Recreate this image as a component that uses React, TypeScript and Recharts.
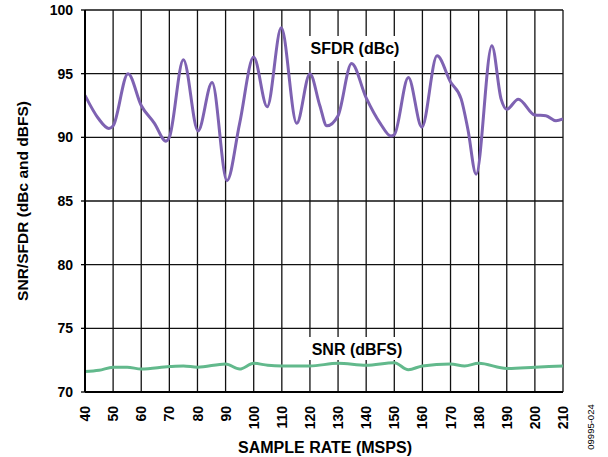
import React from "react";
import { LineChart, Line, XAxis, YAxis, CartesianGrid } from "recharts";

const xTicks = [40, 50, 60, 70, 80, 90, 100, 110, 120, 130, 140, 150, 160, 170, 180, 190, 200, 210];
const yTicks = [70, 75, 80, 85, 90, 95, 100];

const sfdrX = [40, 44.7, 48.5, 50, 55.3, 60, 64.7, 68.8, 70, 75, 80.2, 85.2, 90.5, 95, 100, 104.8, 109.8, 115.3, 120, 123.5, 126, 130, 134.8, 140, 145, 148.8, 150, 155, 159.8, 165.2, 170, 173.8, 176.2, 179.1, 184.7, 188, 190, 194.1, 200, 203.9, 207.5, 210];
const sfdrY = [93.3, 91.5, 90.7, 90.9, 95.0, 92.5, 91.1, 89.7, 90.0, 96.1, 90.5, 94.3, 86.6, 91.1, 96.3, 92.4, 98.6, 91.1, 95.0, 92.5, 90.9, 91.7, 95.8, 93.1, 91.1, 90.1, 90.2, 94.7, 90.8, 96.4, 94.35, 93.0, 90.6, 87.1, 97.2, 93.0, 92.2, 93.0, 91.75, 91.7, 91.3, 91.45];

const snrX = [40, 45, 50, 55, 60, 70, 75, 80, 90, 95, 100, 105, 110, 120, 130, 140, 150, 155, 160, 170, 175, 180, 190, 200, 210];
const snrY = [71.6, 71.7, 71.95, 71.95, 71.8, 72.0, 72.05, 71.95, 72.2, 71.8, 72.25, 72.1, 72.05, 72.05, 72.25, 72.1, 72.3, 71.75, 72.05, 72.2, 72.05, 72.25, 71.85, 71.95, 72.05];

const sfdrData = sfdrX.map((x, i) => ({ x, y: sfdrY[i] }));
const snrData = snrX.map((x, i) => ({ x, y: snrY[i] }));

const FONT = '"Liberation Sans", Arial, sans-serif';

const XTick = (props: any) => {
  const { x, y, payload } = props;
  const ty = y + 14;
  return (
    <text
      x={x}
      y={ty}
      transform={`rotate(-90 ${x} ${ty})`}
      textAnchor="end"
      dy="0.36em"
      fontFamily={FONT}
      fontWeight="bold"
      fontSize={14}
      fill="#000"
    >
      {payload.value}
    </text>
  );
};

export default function App() {
  return (
    <div style={{ position: "absolute", left: 0, top: 0, width: 608, height: 457, background: "#fff" }}>
      <LineChart
        width={608}
        height={457}
        margin={{ top: 10, right: 45, bottom: 20, left: 45 }}
      >
        <CartesianGrid stroke="#111" strokeWidth={1.3} />
        <XAxis
          type="number"
          dataKey="x"
          domain={[40, 210]}
          ticks={xTicks}
          interval={0}
          allowDataOverflow
          tickLine={false}
          tickSize={0}
          tickMargin={0}
          height={45}
          axisLine={{ stroke: "#000", strokeWidth: 2 }}
          tick={<XTick />}
        />
        <YAxis
          type="number"
          domain={[70, 100]}
          ticks={yTicks}
          interval={0}
          width={40}
          tickSize={4}
          tickMargin={8}
          tickLine={{ stroke: "#000", strokeWidth: 1.3 }}
          axisLine={{ stroke: "#000", strokeWidth: 2 }}
          tick={{ fontFamily: FONT, fontWeight: "bold", fontSize: 14, fill: "#000" }}
        />
        <Line
          data={snrData}
          dataKey="y"
          type="monotone"
          stroke="#62B98C"
          strokeWidth={3}
          dot={false}
          isAnimationActive={false}
        />
        <Line
          data={sfdrData}
          dataKey="y"
          type="monotone"
          stroke="#7E62B2"
          strokeWidth={3}
          dot={false}
          isAnimationActive={false}
        />
      </LineChart>
      <svg
        width={608}
        height={457}
        style={{ position: "absolute", left: 0, top: 0, pointerEvents: "none" }}
      >
        <rect x={306} y={36} width={96} height={25} fill="#fff" />
        <text x={355} y={54} textAnchor="middle" fontFamily={FONT} fontWeight="bold" fontSize={16} fill="#000">
          SFDR (dBc)
        </text>
        <rect x={308} y={337} width={98} height={23} fill="#fff" />
        <text x={357} y={355} textAnchor="middle" fontFamily={FONT} fontWeight="bold" fontSize={16} fill="#000">
          SNR (dBFS)
        </text>
        <text x={325} y={453} textAnchor="middle" fontFamily={FONT} fontWeight="bold" fontSize={16} fill="#000">
          SAMPLE RATE (MSPS)
        </text>
        <text
          x={22}
          y={201}
          transform="rotate(-90 22 201)"
          textAnchor="middle"
          dy="0.36em"
          fontFamily={FONT}
          fontWeight="bold"
          fontSize={15.5}
          fill="#000"
        >
          SNR/SFDR (dBc and dBFS)
        </text>
        <text
          x={591}
          y={427}
          transform="rotate(-90 591 427)"
          textAnchor="middle"
          dy="0.36em"
          fontFamily={FONT}
          fontSize={9.5}
          fill="#000"
        >
          09995-024
        </text>
      </svg>
    </div>
  );
}
